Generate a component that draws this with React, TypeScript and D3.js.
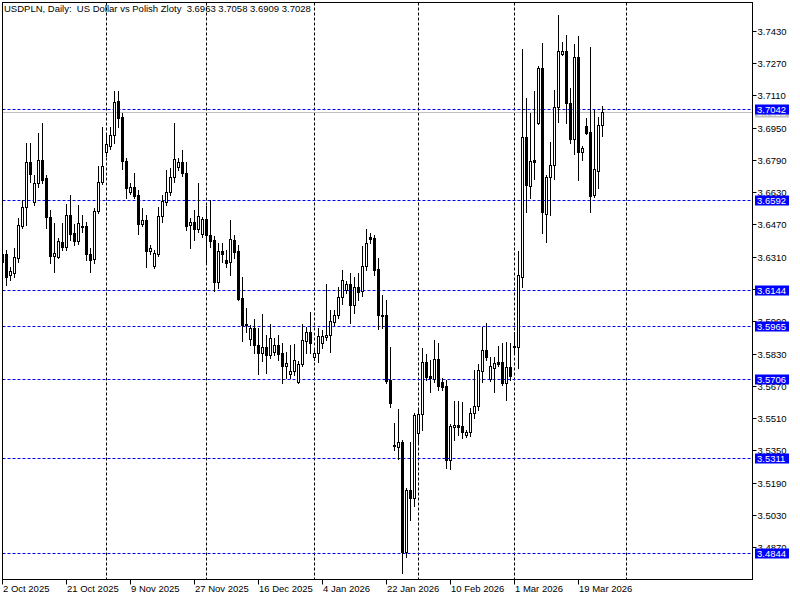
import React from "react";
import * as d3 from "d3";

const TITLE = "USDPLN, Daily:  US Dollar vs Polish Zloty  3.6963 3.7058 3.6909 3.7028";

const OPEN = [
  3.6323, 3.6323, 3.6219, 3.6229, 3.6304, 3.6462, 3.6556, 3.6779, 3.6581, 3.6675,
  3.6789, 3.6700, 3.6507, 3.6313, 3.6309, 3.6383, 3.6358, 3.6516, 3.6427, 3.6388,
  3.6462, 3.6462, 3.6323, 3.6299, 3.6536, 3.6680, 3.6829, 3.6858, 3.6913, 3.7082,
  3.7002, 3.6784, 3.6631, 3.6655, 3.6616, 3.6472, 3.6492, 3.6338, 3.6264, 3.6323,
  3.6512, 3.6581, 3.6631, 3.6705, 3.6755, 3.6779, 3.6725, 3.6467, 3.6482, 3.6447,
  3.6422, 3.6497, 3.6417, 3.6393, 3.6185, 3.6338, 3.6294, 3.6284, 3.6393, 3.6338,
  3.6106, 3.5976, 3.5902, 3.5957, 3.5872, 3.5833, 3.5862, 3.5823, 3.5838, 3.5872,
  3.5833, 3.5768, 3.5729, 3.5744, 3.5689, 3.5778, 3.5892, 3.5937, 3.5813, 3.5833,
  3.5882, 3.5912, 3.5922, 3.5986, 3.6021, 3.6110, 3.6145, 3.6175, 3.6071, 3.6160,
  3.6140, 3.6264, 3.6408, 3.6403, 3.6249, 3.6021, 3.6021, 3.5699, 3.5377, 3.5367,
  3.5392, 3.4847, 3.5154, 3.5115, 3.5436, 3.5530, 3.5788, 3.5719, 3.5704, 3.5803,
  3.5689, 3.5669, 3.5303, 3.5466, 3.5476, 3.5471, 3.5426, 3.5441, 3.5535, 3.5570,
  3.5744, 3.5848, 3.5704, 3.5758, 3.5788, 3.5788, 3.5684, 3.5763, 3.5862, 3.5862,
  3.6209, 3.6903, 3.6660, 3.6789, 3.6972, 3.7245, 3.6521, 3.6705, 3.6764, 3.7052,
  3.7314, 3.7329, 3.7072, 3.6893, 3.7300, 3.6829, 3.6958, 3.6928, 3.6616, 3.6735,
  3.6963,
];
const HIGH = [
  3.6348, 3.6343, 3.6259, 3.6353, 3.6502, 3.6591, 3.6873, 3.6873, 3.6715, 3.6923,
  3.6972, 3.6715, 3.6541, 3.6477, 3.6403, 3.6477, 3.6571, 3.6616, 3.6472, 3.6566,
  3.6516, 3.6482, 3.6353, 3.6551, 3.6759, 3.6953, 3.6913, 3.6953, 3.7131, 3.7131,
  3.7022, 3.6799, 3.6675, 3.6725, 3.6641, 3.6551, 3.6516, 3.6368, 3.6343, 3.6556,
  3.6616, 3.6740, 3.6750, 3.6972, 3.6799, 3.6839, 3.6779, 3.6502, 3.6541, 3.6675,
  3.6507, 3.6561, 3.6591, 3.6413, 3.6378, 3.6378, 3.6343, 3.6492, 3.6417, 3.6368,
  3.6209, 3.6056, 3.5971, 3.6001, 3.5957, 3.6026, 3.5922, 3.5976, 3.5907, 3.5922,
  3.5882, 3.5838, 3.5872, 3.5877, 3.5793, 3.5976, 3.5962, 3.6036, 3.5858, 3.5957,
  3.5947, 3.6175, 3.6046, 3.6046, 3.6160, 3.6244, 3.6190, 3.6229, 3.6209, 3.6229,
  3.6363, 3.6447, 3.6427, 3.6417, 3.6304, 3.6120, 3.6096, 3.5862, 3.5486, 3.5555,
  3.5402, 3.5164, 3.5392, 3.5535, 3.5550, 3.5858, 3.5828, 3.5798, 3.5897, 3.5882,
  3.5709, 3.5699, 3.5481, 3.5595, 3.5595, 3.5590, 3.5451, 3.5560, 3.5749, 3.5778,
  3.5962, 3.5981, 3.5813, 3.5813, 3.5868, 3.5882, 3.5887, 3.5882, 3.5937, 3.6338,
  3.7339, 3.7096, 3.7022, 3.7131, 3.7255, 3.7369, 3.6715, 3.6878, 3.7136, 3.7508,
  3.7374, 3.7409, 3.7146, 3.7364, 3.7404, 3.6859, 3.6997, 3.7349, 3.7037, 3.7002,
  3.7058,
];
const LOW = [
  3.6185, 3.6170, 3.6195, 3.6209, 3.6284, 3.6452, 3.6467, 3.6680, 3.6566, 3.6655,
  3.6675, 3.6452, 3.6279, 3.6234, 3.6304, 3.6343, 3.6343, 3.6393, 3.6368, 3.6373,
  3.6432, 3.6294, 3.6234, 3.6279, 3.6526, 3.6670, 3.6809, 3.6844, 3.6873, 3.6953,
  3.6745, 3.6601, 3.6621, 3.6601, 3.6422, 3.6462, 3.6259, 3.6323, 3.6254, 3.6313,
  3.6482, 3.6566, 3.6616, 3.6680, 3.6740, 3.6710, 3.6442, 3.6353, 3.6393, 3.6432,
  3.6408, 3.6284, 3.6358, 3.6140, 3.6155, 3.6284, 3.6259, 3.6219, 3.6304, 3.6096,
  3.5892, 3.5937, 3.5872, 3.5833, 3.5729, 3.5793, 3.5734, 3.5808, 3.5823, 3.5798,
  3.5684, 3.5709, 3.5709, 3.5724, 3.5684, 3.5768, 3.5833, 3.5833, 3.5798, 3.5788,
  3.5858, 3.5897, 3.5838, 3.5971, 3.6006, 3.6076, 3.6130, 3.5981, 3.6031, 3.6096,
  3.6115, 3.6244, 3.6378, 3.6219, 3.5952, 3.5957, 3.5684, 3.5565, 3.5352, 3.5308,
  3.4743, 3.4822, 3.5005, 3.5075, 3.5387, 3.5451, 3.5699, 3.5640, 3.5689, 3.5650,
  3.5650, 3.5263, 3.5258, 3.5402, 3.5426, 3.5412, 3.5416, 3.5421, 3.5510, 3.5550,
  3.5689, 3.5798, 3.5694, 3.5640, 3.5768, 3.5674, 3.5600, 3.5699, 3.5838, 3.5758,
  3.6160, 3.6532, 3.6601, 3.6695, 3.6967, 3.6427, 3.6383, 3.6516, 3.6695, 3.6977,
  3.7309, 3.6972, 3.6873, 3.6819, 3.6690, 3.6789, 3.6918, 3.6532, 3.6606, 3.6650,
  3.6909,
];
const CLOSE = [
  3.6284, 3.6209, 3.6239, 3.6309, 3.6467, 3.6556, 3.6779, 3.6720, 3.6675, 3.6789,
  3.6690, 3.6507, 3.6313, 3.6328, 3.6388, 3.6358, 3.6516, 3.6422, 3.6388, 3.6477,
  3.6457, 3.6323, 3.6294, 3.6536, 3.6680, 3.6759, 3.6868, 3.6913, 3.7077, 3.6997,
  3.6784, 3.6651, 3.6655, 3.6611, 3.6472, 3.6492, 3.6338, 3.6353, 3.6328, 3.6512,
  3.6586, 3.6631, 3.6705, 3.6794, 3.6779, 3.6725, 3.6462, 3.6482, 3.6447, 3.6512,
  3.6497, 3.6417, 3.6388, 3.6185, 3.6338, 3.6323, 3.6279, 3.6398, 3.6333, 3.6101,
  3.5971, 3.5973, 3.5957, 3.5872, 3.5833, 3.5862, 3.5823, 3.5907, 3.5872, 3.5828,
  3.5768, 3.5783, 3.5744, 3.5798, 3.5778, 3.5897, 3.5937, 3.5882, 3.5833, 3.5917,
  3.5917, 3.5922, 3.5991, 3.6021, 3.6110, 3.6195, 3.6175, 3.6071, 3.6160, 3.6135,
  3.6264, 3.6378, 3.6398, 3.6244, 3.6021, 3.6016, 3.5694, 3.5585, 3.5372, 3.5392,
  3.4847, 3.5154, 3.5115, 3.5526, 3.5530, 3.5788, 3.5714, 3.5709, 3.5803, 3.5669,
  3.5664, 3.5303, 3.5471, 3.5476, 3.5466, 3.5441, 3.5441, 3.5535, 3.5570, 3.5749,
  3.5848, 3.5813, 3.5768, 3.5783, 3.5778, 3.5684, 3.5763, 3.5719, 3.5867, 3.6219,
  3.6903, 3.6665, 3.6784, 3.6779, 3.7245, 3.6531, 3.6705, 3.6764, 3.7052, 3.7329,
  3.7329, 3.7072, 3.6893, 3.7300, 3.6829, 3.6849, 3.6923, 3.6611, 3.6745, 3.6963,
  3.7028,
];

const DATE_LABELS = [
  "2 Oct 2025", "21 Oct 2025", "9 Nov 2025", "27 Nov 2025", "16 Dec 2025",
  "4 Jan 2026", "22 Jan 2026", "10 Feb 2026", "1 Mar 2026", "19 Mar 2026",
];
const DATE_LABEL_BARS = [0, 16, 32, 48, 64, 80, 96, 112, 128, 144];
const MONTH_START_BARS = [26, 51, 78, 104, 128, 156];
const PRICE_TICKS = [
  3.743, 3.727, 3.711, 3.695, 3.679, 3.663, 3.647, 3.631, 3.615,
  3.599, 3.583, 3.567, 3.551, 3.535, 3.519, 3.503, 3.487,
];
const LEVELS = [3.7042, 3.6592, 3.6144, 3.5965, 3.5706, 3.5311, 3.4844];
const BID = 3.7028;

const FONT = "'Liberation Sans', Arial, sans-serif";

export default function App() {
  const W = 800;
  const H = 600;
  const left = 2.5;
  const right = 752.5;
  const top = 2.5;
  const bottom = 579.5;

  const x = d3.scaleLinear().domain([0, 187.5]).range([2.5, 752.5]);
  const y = d3.scaleLinear().domain([3.743, 3.487]).range([30.7, 547.3]);
  const ry = (v: number) => Math.round(y(v));
  const py = (v: number) => Math.round(y(v)) + 0.5;

  const candles = OPEN.map((o, i) => ({
    i,
    o,
    h: HIGH[i],
    l: LOW[i],
    c: CLOSE[i],
  }));

  return (
    <svg
      width={W}
      height={H}
      style={{ position: "absolute", left: 0, top: 0, background: "#fff" }}
      fontFamily={FONT}
    >
      <rect x={0} y={0} width={W} height={H} fill="#fff" />
      <defs>
        <clipPath id="plot">
          <rect x={left} y={top} width={right - left} height={bottom - top} />
        </clipPath>
      </defs>

      <g clipPath="url(#plot)">
        {MONTH_START_BARS.map((b) => (
          <line
            key={"g" + b}
            x1={x(b)}
            x2={x(b)}
            y1={top}
            y2={bottom}
            stroke="#000"
            strokeWidth={1}
            strokeDasharray="3,2"
          />
        ))}
        <line x1={left} x2={right} y1={py(BID)} y2={py(BID)} stroke="#c0c0c0" strokeWidth={1} />
        {LEVELS.map((v) => (
          <line
            key={"l" + v}
            x1={left}
            x2={right}
            y1={py(v)}
            y2={py(v)}
            stroke="#0000ff"
            strokeWidth={1}
            strokeDasharray="3,2"
          />
        ))}
        {candles.map((d) => {
          const cx = x(d.i);
          const bull = d.c >= d.o;
          const bt = ry(Math.max(d.o, d.c));
          const bb = ry(Math.min(d.o, d.c));
          return (
            <g key={d.i}>
              <line x1={cx} x2={cx} y1={ry(d.h)} y2={ry(d.l) + 1} stroke="#000" strokeWidth={1} />
              <rect
                x={cx - 1}
                y={bt + 0.5}
                width={2}
                height={Math.max(bb - bt, 0)}
                fill={bull ? "#fff" : "#000"}
                stroke="#000"
                strokeWidth={1}
              />
            </g>
          );
        })}
      </g>

      <rect x={left} y={top} width={right - left} height={bottom - top} fill="none" stroke="#000" strokeWidth={1} />

      <text x={4} y={12} fontSize={9.5} fill="#000">
        {TITLE.replace(/ /g, "\u00a0")}
      </text>

      {PRICE_TICKS.map((t) => (
        <g key={"t" + t}>
          <line x1={right} x2={right + 4} y1={py(t)} y2={py(t)} stroke="#000" />
          <text x={right + 5} y={py(t) + 3.5} fontSize={9.5} fill="#000">
            {t.toFixed(4)}
          </text>
        </g>
      ))}

      <g>
        <rect x={755} y={py(BID) - 5} width={34} height={10} fill="#c0c0c0" />
        <text x={757} y={py(BID) + 3.5} fontSize={9.5} fill="#fff">
          {BID.toFixed(4)}
        </text>
      </g>
      {LEVELS.map((v) => (
        <g key={"lb" + v}>
          <rect x={755} y={py(v) - 5} width={34} height={10} fill="#0000ff" />
          <text x={757} y={py(v) + 3.5} fontSize={9.5} fill="#fff">
            {v.toFixed(4)}
          </text>
        </g>
      ))}

      {DATE_LABEL_BARS.map((b, k) => (
        <g key={"d" + b}>
          <line x1={x(b)} x2={x(b)} y1={bottom} y2={bottom + 5} stroke="#000" />
          <text x={x(b) + 0.5} y={592} fontSize={9.5} fill="#000">
            {DATE_LABELS[k]}
          </text>
        </g>
      ))}
    </svg>
  );
}
